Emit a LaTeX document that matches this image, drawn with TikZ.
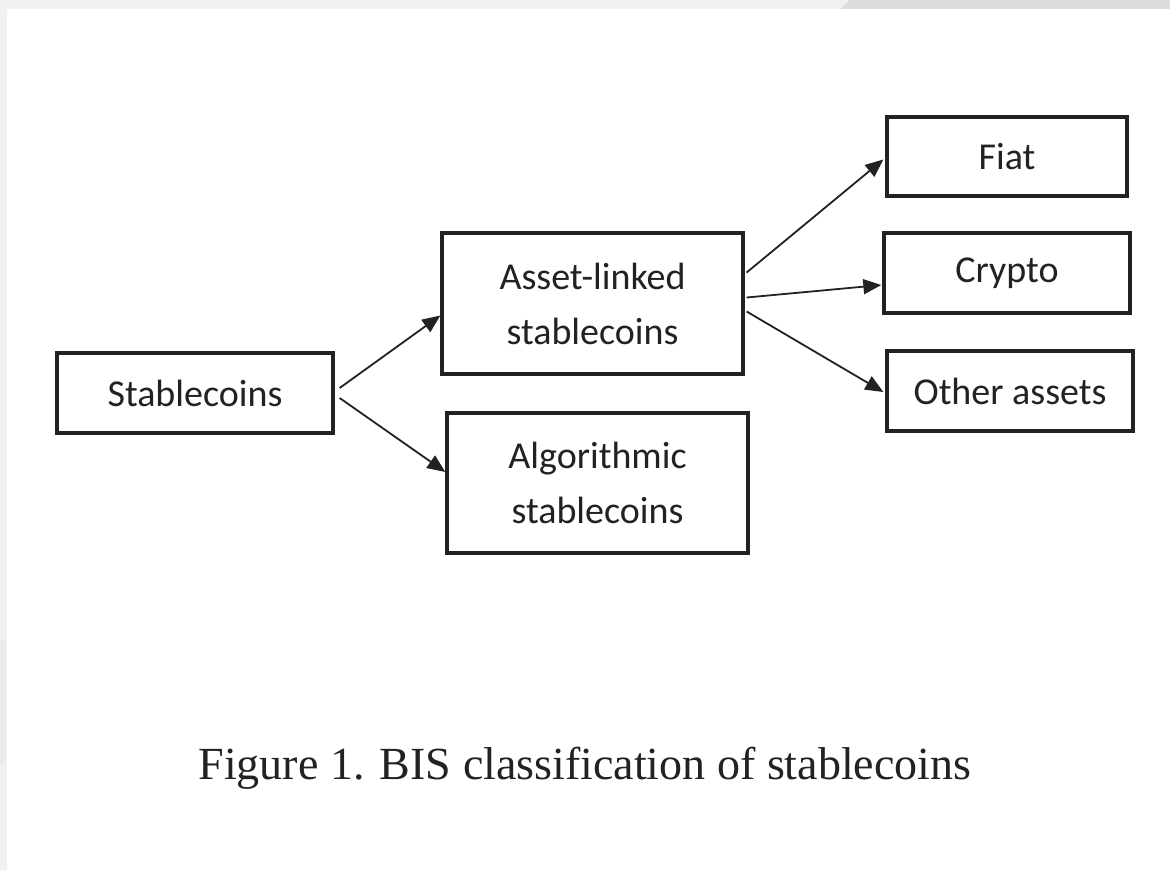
\documentclass[tikz,border=0pt]{standalone}
\usepackage{fontspec}
\setmainfont{Liberation Serif}
\newfontfamily\boxfont{Carlito}
\usetikzlibrary{arrows.meta}

\definecolor{pagegray}{HTML}{F1F1F1}
\definecolor{bandgray}{HTML}{DCDCDC}
\definecolor{inkgray}{HTML}{222222}

\tikzset{
  catbox/.style={draw=inkgray, line width=3.3pt, inner sep=0pt, align=center,
    text=inkgray, font=\boxfont\fontsize{38}{55}\selectfont},
  arr/.style={-{Triangle[length=18pt,width=15pt]}, draw=inkgray, fill=inkgray, line width=1.8pt}
}

\begin{document}
\begin{tikzpicture}[x=1pt,y=-1pt]
    % page background and the grey frame round it
    \useasboundingbox (0,0) rectangle (1170,870);
    \fill[pagegray] (0,0) rectangle (1170,870);
    \fill[bandgray] (850,0) -- (1170,0) -- (1170,9) -- (840,9) -- cycle;
    \fill[bandgray!60] (0,640) rectangle (6,765);
    \fill[white] (7,9) rectangle (1170,870);

    % boxes
    \node[catbox, minimum width=276pt, minimum height=80pt] (stable) at (195,393) {Stablecoins};
    \node[catbox, minimum width=301pt, minimum height=141pt] (asset) at (592.5,303.5) {Asset-linked\\stablecoins};
    \node[catbox, minimum width=301pt, minimum height=140pt] (algo) at (597.5,483) {Algorithmic\\stablecoins};
    \node[catbox, minimum width=240pt, minimum height=79pt] (fiat) at (1007,156.5) {Fiat};
    \node[catbox, minimum width=246pt, minimum height=80pt] (crypto) at (1007,273) {Crypto};
    \node[catbox, minimum width=246pt, minimum height=80pt] (other) at (1010,391) {Other assets};

    % first split
    \draw[arr] ([xshift=5pt,yshift=5pt]stable.east) -- ([yshift=-12pt]asset.west);
    \draw[arr] ([xshift=5pt,yshift=-5pt]stable.east) -- ([yshift=11pt]algo.west);

    % second split
    \draw[arr] ([xshift=2pt,yshift=31pt]asset.east) -- ([xshift=-2pt,yshift=-3pt]fiat.west);
    \draw[arr] ([xshift=2pt,yshift=6pt]asset.east) -- ([xshift=-1pt,yshift=-12pt]crypto.west);
    \draw[arr] ([xshift=2pt,yshift=-8pt]asset.east) -- ([xshift=-2pt,yshift=-1pt]other.west);

    % caption
    \node[font=\fontsize{46}{50}\selectfont, text=inkgray] (caption) at (585,768) {Figure 1. BIS classification of stablecoins};
\end{tikzpicture}
\end{document}
